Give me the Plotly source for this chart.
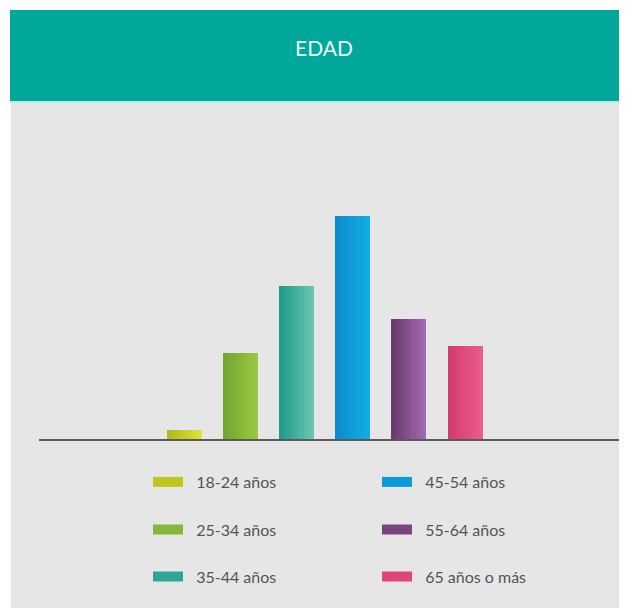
import plotly.graph_objects as go

# ---- data ----
categories = ["18-24 años", "25-34 años", "35-44 años", "45-54 años", "55-64 años", "65 años o más"]
values = [1.3, 12.6, 22.4, 32.6, 17.5, 13.6]
left_colors = ["#b0bb1c", "#74a632", "#1e9d89", "#0a8dcc", "#6a3a6e", "#d13d6d"]
right_colors = ["#dbe43c", "#98c840", "#6cc3b3", "#12ace6", "#a467b1", "#ec5b8e"]
legend_colors = ["#bcc61f", "#86b63a", "#2fa595", "#0a9bd9", "#7a457e", "#e0457a"]

W, H = 627, 609
OFF = 8  # page body margin


def px(x):
    return (x - OFF) / W


def py(y):
    return 1 - (y - OFF) / H


def hex2rgb(h):
    h = h.lstrip("#")
    return tuple(int(h[i:i + 2], 16) for i in (0, 2, 4))


def mix(a, b, t):
    ra, rb = hex2rgb(a), hex2rgb(b)
    return "rgb(%d,%d,%d)" % tuple(round(ra[i] + (rb[i] - ra[i]) * t) for i in range(3))


fig = go.Figure()

xs = list(range(len(categories)))
bar_w = 0.624
n = 10
for k in range(n):
    t = (n - 1 - k) / (n - 1)
    frac = (n - k) / n
    fig.add_trace(go.Bar(
        x=xs, y=values,
        width=bar_w * frac, offset=-bar_w / 2,
        marker=dict(color=[mix(l, r, t) for l, r in zip(left_colors, right_colors)], line=dict(width=0)),
        showlegend=False, hoverinfo="skip",
    ))

# legend entries (3 rows x 2 columns)
legend_ids = ["legend", "legend2", "legend3"]
for r in range(3):
    for c in (r, r + 3):
        fig.add_trace(go.Scatter(
            x=[None], y=[None], mode="lines",
            line=dict(color=legend_colors[c], width=10),
            name="\u00a0\u00a0" + categories[c],
            legend=legend_ids[r], showlegend=True,
        ))

row_y = [482, 529.5, 576.5]
legend_common = dict(
    orientation="h", xanchor="left", yanchor="middle",
    x=px(148), entrywidth=184, entrywidthmode="pixels",
    font=dict(family="Lato", size=16, color="#555555"),
    bgcolor="rgba(0,0,0,0)", borderwidth=0,
)

fig.update_layout(
    width=W, height=H,
    margin=dict(l=0, r=0, t=0, b=0),
    paper_bgcolor="white", plot_bgcolor="rgba(0,0,0,0)",
    barmode="overlay", bargap=0,
    showlegend=True,
    legend=dict(**legend_common, y=py(row_y[0])),
    legend2=dict(**legend_common, y=py(row_y[1])),
    legend3=dict(**legend_common, y=py(row_y[2])),
    xaxis=dict(
        domain=[px(39), px(623)], range=[-2.594, 7.816],
        showgrid=False, zeroline=False, showticklabels=False, ticks="",
        showline=True, linecolor="#5a5a5a", linewidth=2, fixedrange=True,
    ),
    yaxis=dict(
        domain=[py(439), py(139)], range=[0, 300 / 6.84],
        showgrid=False, zeroline=False, showticklabels=False, ticks="",
        showline=False, fixedrange=True,
    ),
    shapes=[
        dict(type="rect", xref="paper", yref="paper", layer="below",
             x0=px(11), x1=1, y0=py(608), y1=py(102),
             fillcolor="#e6e6e6", line=dict(width=0)),
        dict(type="rect", xref="paper", yref="paper", layer="below",
             x0=px(10), x1=1, y0=py(101), y1=py(10),
             fillcolor="#00a79a", line=dict(width=0)),
        dict(type="rect", xref="paper", yref="paper", layer="below",
             x0=px(10), x1=1, y0=py(103), y1=py(101),
             fillcolor="#b8ece6", line=dict(width=0)),
    ],
    annotations=[
        dict(text="EDAD", xref="paper", yref="paper", x=px(323.5), y=py(47.5),
             xanchor="center", yanchor="middle", showarrow=False,
             font=dict(family="Lato", size=21, color="#e8fbf8")),
    ],
)

fig.write_html("out.html")
